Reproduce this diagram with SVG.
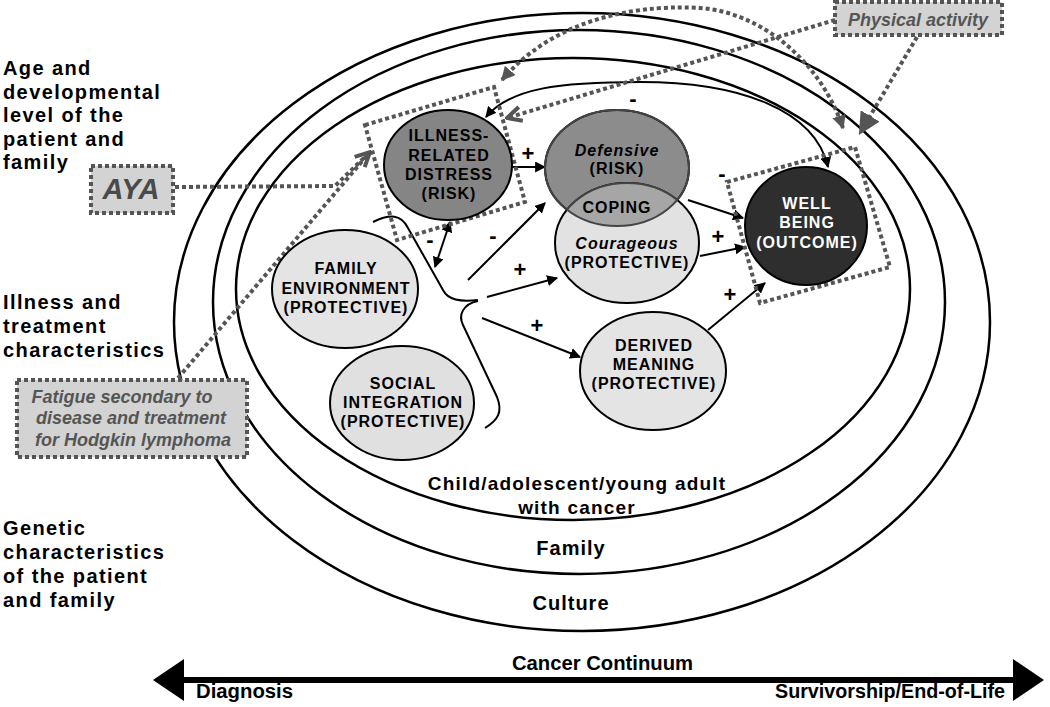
<svg xmlns="http://www.w3.org/2000/svg" width="1050" height="707" viewBox="0 0 1050 707">
<defs>
<style>
.ring{fill:none;stroke:#000;stroke-width:2.5}
.node{stroke:#000;stroke-width:2}
.nt{font-family:"Liberation Sans",Arial,sans-serif;font-weight:bold;font-size:16px;letter-spacing:1px;text-anchor:middle;fill:#000}
.it{font-style:italic}
.side{font-family:"Liberation Sans",Arial,sans-serif;font-weight:bold;font-size:20px;letter-spacing:1.4px;fill:#000}
.lbl{font-family:"Liberation Sans",Arial,sans-serif;font-weight:bold;text-anchor:middle;fill:#000}
.sign{font-family:"Liberation Sans",Arial,sans-serif;font-weight:bold;font-size:22px;text-anchor:middle;fill:#000}
.dot{fill:none;stroke:#555;stroke-width:4;stroke-dasharray:4 3}
.box{fill:#d3d3d3;stroke:#555;stroke-width:4;stroke-dasharray:4 3}
.conn{fill:none;stroke:#000;stroke-width:2}
.gt{font-family:"Liberation Sans",Arial,sans-serif;font-weight:bold;font-style:italic;fill:#555;text-anchor:middle}
.nar{font-family:"Liberation Sans Narrow","Liberation Sans",Arial,sans-serif;font-weight:bold;fill:#000}
</style>
<marker id="ah" viewBox="0 0 10 10" refX="9" refY="5" markerWidth="11" markerHeight="11" markerUnits="userSpaceOnUse" orient="auto-start-reverse"><path d="M0,0 L10,5 L0,10 z" fill="#000"/></marker>
<marker id="gh" viewBox="0 0 10 10" refX="9" refY="5" markerWidth="14" markerHeight="14" markerUnits="userSpaceOnUse" orient="auto-start-reverse"><path d="M0,0 L10,5 L0,10 z" fill="#555"/></marker>
<marker id="gbig" viewBox="0 0 10 10" refX="9" refY="5" markerWidth="22" markerHeight="22" markerUnits="userSpaceOnUse" orient="auto"><path d="M0,0 L10,5 L0,10 z" fill="#555"/></marker>
<marker id="gv" viewBox="0 0 10 10" refX="9" refY="5" markerWidth="18" markerHeight="18" markerUnits="userSpaceOnUse" orient="auto"><path d="M1,1 L9,5 L1,9" fill="none" stroke="#555" stroke-width="2.2"/></marker>
<clipPath id="defclip"><ellipse cx="617" cy="168" rx="72" ry="58"/></clipPath>
</defs>

<g id="rings">
<ellipse class="ring" cx="582" cy="322" rx="408" ry="309"/>
<ellipse class="ring" cx="579" cy="302" rx="366" ry="272"/>
<ellipse class="ring" cx="573" cy="289" rx="337" ry="231"/>
<text class="lbl" x="577" y="490" font-size="19" letter-spacing="1.2">Child/adolescent/young adult</text>
<text class="lbl" x="577" y="514" font-size="19" letter-spacing="1.2">with cancer</text>
<text class="lbl" x="571" y="555" font-size="20" letter-spacing="1">Family</text>
<text class="lbl" x="571" y="610" font-size="20" letter-spacing="1">Culture</text>
</g>

<g id="side-labels">
<text class="side" x="3" y="75">Age and</text>
<text class="side" x="3" y="99">developmental</text>
<text class="side" x="3" y="122">level of the</text>
<text class="side" x="3" y="146">patient and</text>
<text class="side" x="3" y="169">family</text>
<text class="side" x="3" y="309">Illness and</text>
<text class="side" x="3" y="333">treatment</text>
<text class="side" x="3" y="357">characteristics</text>
<text class="side" x="3" y="535">Genetic</text>
<text class="side" x="3" y="559">characteristics</text>
<text class="side" x="3" y="583">of the patient</text>
<text class="side" x="3" y="607">and family</text>
</g>

<g id="connectors">
<path class="conn" d="M512,167 L545,167" marker-end="url(#ah)"/>
<path class="conn" d="M486,117 C510,88 560,82 640,82 C740,82 815,110 828,167" marker-start="url(#ah)" marker-end="url(#ah)"/>
<path class="conn" d="M688,200 L743,218" marker-end="url(#ah)"/>
<path class="conn" d="M700,256 L745,247" marker-end="url(#ah)"/>
<path class="conn" d="M708,330 L765,283" marker-end="url(#ah)"/>
<path class="conn" d="M373,222 C390,214 401,214 408,228 L443,290 C448,300 460,302 478,300"/>
<path class="conn" d="M478,301 C463,304 458,315 463,325 L497,397 C503,412 498,420 485,428"/>
<path class="conn" d="M435,267 L450,222" marker-start="url(#ah)" marker-end="url(#ah)"/>
<path class="conn" d="M468,280 L545,203" marker-end="url(#ah)"/>
<path class="conn" d="M487,297 L557,278" marker-end="url(#ah)"/>
<path class="conn" d="M482,318 L580,357" marker-end="url(#ah)"/>
<text class="sign" x="528" y="161">+</text>
<text class="sign" x="633" y="106">-</text>
<text class="sign" x="722" y="181">-</text>
<text class="sign" x="718" y="244">+</text>
<text class="sign" x="730" y="302">+</text>
<text class="sign" x="430" y="247">-</text>
<text class="sign" x="493" y="243">-</text>
<text class="sign" x="520" y="277">+</text>
<text class="sign" x="537" y="333">+</text>
</g>

<g id="dotted-links">
<polygon class="dot" points="365,125 494,87 525,202 397,240"/>
<polygon class="dot" points="727,182 855,147 890,267 760,303"/>
<path class="dot" d="M175,187 L335,186 L370,152" marker-end="url(#gv)"/>
<path class="dot" d="M178,378 L370,152"/>
<path class="dot" d="M835,20 L507,118" marker-end="url(#gv)"/>
<path class="dot" d="M502,80 C560,12 650,5 700,8 C760,12 820,60 843,128" marker-start="url(#gh)" marker-end="url(#gh)"/>
<path class="dot" d="M917,37 L860,133" marker-end="url(#gbig)"/>
</g>

<g id="illness">
<ellipse class="node" cx="448" cy="165" rx="64" ry="55" fill="#858585"/>
<text class="nt" x="449" y="141">ILLNESS-</text>
<text class="nt" x="449" y="161">RELATED</text>
<text class="nt" x="449" y="180">DISTRESS</text>
<text class="nt" x="449" y="199">(RISK)</text>
</g>

<g id="coping">
<ellipse class="node" cx="617" cy="168" rx="72" ry="58" fill="#8c8c8c"/>
<ellipse class="node" cx="627" cy="243" rx="72" ry="60" fill="#e2e2e2"/>
<ellipse cx="627" cy="243" rx="72" ry="60" fill="#a6a6a6" stroke="#444" stroke-width="2" clip-path="url(#defclip)"/>
<ellipse cx="617" cy="168" rx="72" ry="58" fill="none" stroke="#444" stroke-width="2"/>
<text class="nt it" x="617" y="156">Defensive</text>
<text class="nt" x="617" y="174">(RISK)</text>
<text class="nt" x="617" y="213">COPING</text>
<text class="nt it" x="627" y="249">Courageous</text>
<text class="nt" x="627" y="268">(PROTECTIVE)</text>
</g>

<g id="wellbeing">
<ellipse class="node" cx="806" cy="226" rx="61" ry="59" fill="#2e2e2e"/>
<text class="nt" x="807" y="209" fill="#fff" style="fill:#fff">WELL</text>
<text class="nt" x="807" y="228" style="fill:#fff">BEING</text>
<text class="nt" x="807" y="248" style="fill:#fff">(OUTCOME)</text>
</g>

<g id="family-env">
<ellipse class="node" cx="345" cy="289" rx="73" ry="59" fill="#e4e4e4"/>
<text class="nt" x="346" y="274">FAMILY</text>
<text class="nt" x="346" y="294">ENVIRONMENT</text>
<text class="nt" x="346" y="313">(PROTECTIVE)</text>
</g>

<g id="social">
<ellipse class="node" cx="402" cy="403" rx="72" ry="57" fill="#e0e0e0"/>
<text class="nt" x="403" y="389">SOCIAL</text>
<text class="nt" x="403" y="408">INTEGRATION</text>
<text class="nt" x="403" y="427">(PROTECTIVE)</text>
</g>

<g id="derived">
<ellipse class="node" cx="653" cy="371" rx="73" ry="59" fill="#e4e4e4"/>
<text class="nt" x="654" y="351">DERIVED</text>
<text class="nt" x="654" y="370">MEANING</text>
<text class="nt" x="654" y="389">(PROTECTIVE)</text>
</g>

<g id="aya">
<rect class="box" x="91" y="166" width="82" height="47"/>
<text class="gt" x="131" y="199" font-size="29" style="fill:#4a4a4a">AYA</text>
</g>

<g id="fatigue">
<rect class="box" x="17" y="380" width="230" height="77"/>
<text class="gt" x="122" y="403" font-size="18">Fatigue secondary to</text>
<text class="gt" x="131" y="424" font-size="18">disease and treatment</text>
<text class="gt" x="133" y="446" font-size="18">for Hodgkin lymphoma</text>
</g>

<g id="physical">
<rect class="box" x="835" y="2" width="167" height="33"/>
<text class="gt" x="918" y="26" font-size="18">Physical activity</text>
</g>

<g id="continuum">
<line x1="172" y1="680" x2="1025" y2="680" stroke="#000" stroke-width="6"/>
<polygon points="153,680 184,659 184,701" fill="#000"/>
<polygon points="1044,680 1013,659 1013,701" fill="#000"/>
<text class="nar" x="512" y="670" font-size="20" textLength="181" lengthAdjust="spacingAndGlyphs">Cancer Continuum</text>
<text class="nar" x="196" y="698" font-size="20" textLength="97" lengthAdjust="spacingAndGlyphs">Diagnosis</text>
<text class="nar" x="775" y="698" font-size="20" textLength="230" lengthAdjust="spacingAndGlyphs">Survivorship/End-of-Life</text>
</g>
</svg>
